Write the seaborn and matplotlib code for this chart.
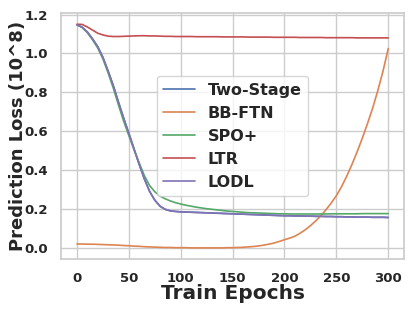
import numpy as np
import pandas as pd
import matplotlib
matplotlib.use("Agg")
import matplotlib.pyplot as plt
import seaborn as sns

# epochs sampled every 5
epochs = list(range(0, 301, 5))

lodl = [1.147, 1.135, 1.11, 1.075, 1.035, 0.98, 0.91, 0.835, 0.75, 0.668, 0.59,
        0.51, 0.43, 0.355, 0.292, 0.247, 0.216, 0.2, 0.192, 0.189, 0.187,
        0.186, 0.185, 0.184, 0.183, 0.182, 0.181, 0.18, 0.179, 0.178, 0.177,
        0.176, 0.175, 0.174, 0.173, 0.172, 0.171, 0.17, 0.169, 0.168, 0.167,
        0.167, 0.166, 0.166, 0.165, 0.165, 0.164, 0.164, 0.163, 0.163, 0.162,
        0.162, 0.161, 0.161, 0.160, 0.160, 0.160, 0.159, 0.159, 0.159, 0.158]
two_stage = list(lodl)
spo = [1.147, 1.133, 1.107, 1.07, 1.028, 0.972, 0.9, 0.822, 0.735, 0.652, 0.578,
       0.505, 0.438, 0.372, 0.322, 0.29, 0.268, 0.254, 0.243, 0.234, 0.227,
       0.221, 0.216, 0.211, 0.207, 0.203, 0.2, 0.197, 0.194, 0.191, 0.189,
       0.187, 0.185, 0.183, 0.182, 0.181, 0.18, 0.179, 0.178, 0.177, 0.177,
       0.176, 0.176, 0.176, 0.176, 0.176, 0.176, 0.176, 0.176, 0.177, 0.177,
       0.177, 0.177, 0.177, 0.177, 0.178, 0.178, 0.178, 0.178, 0.178, 0.178]
ltr = [1.15, 1.149, 1.136, 1.12, 1.104, 1.095, 1.089, 1.087, 1.087, 1.088, 1.089,
       1.09, 1.091, 1.091, 1.09, 1.09, 1.089, 1.088, 1.088, 1.087, 1.087,
       1.087, 1.087, 1.086, 1.086, 1.086, 1.086, 1.086, 1.085, 1.085, 1.085,
       1.085, 1.085, 1.084, 1.084, 1.084, 1.084, 1.084, 1.083, 1.083, 1.083,
       1.083, 1.083, 1.082, 1.082, 1.082, 1.082, 1.082, 1.081, 1.081, 1.081,
       1.081, 1.081, 1.081, 1.08, 1.08, 1.08, 1.08, 1.08, 1.08, 1.08]
bbftn = [0.022, 0.022, 0.021, 0.021, 0.02, 0.019, 0.018, 0.017, 0.016, 0.014, 0.013,
         0.011, 0.01, 0.008, 0.007, 0.006, 0.005, 0.004, 0.004, 0.003, 0.003,
         0.003, 0.002, 0.002, 0.002, 0.002, 0.002, 0.002, 0.002, 0.003, 0.003,
         0.004, 0.005, 0.007, 0.009, 0.012, 0.016, 0.021, 0.027, 0.035, 0.044,
         0.052, 0.062, 0.077, 0.095, 0.116, 0.14, 0.167, 0.198, 0.232, 0.27,
         0.316, 0.37, 0.43, 0.495, 0.565, 0.64, 0.72, 0.81, 0.91, 1.025]

methods = ["Two-Stage", "BB-FTN", "SPO+", "LTR", "LODL"]
series = [two_stage, bbftn, spo, ltr, lodl]

rows = []
for name, vals in zip(methods, series):
    for e, v in zip(epochs, vals):
        rows.append({"epoch": e, "loss": v, "method": name})
df = pd.DataFrame(rows)

sns.set_theme(style="whitegrid")
plt.rcParams["font.family"] = ["DejaVu Sans"]

fig, ax = plt.subplots(figsize=(4.15, 3.11), dpi=100)
sns.lineplot(data=df, x="epoch", y="loss", hue="method", hue_order=methods,
             palette="deep", linewidth=1.2, ax=ax)

ax.set_xlabel("Train Epochs", fontsize=14.5, fontweight="bold")
ax.xaxis.set_label_coords(0.5, -0.1)
ax.set_ylabel("Prediction Loss (10^8)", fontsize=13, fontweight="bold")
ax.yaxis.set_label_coords(-0.101, 0.5)
ax.set_xticks([0, 50, 100, 150, 200, 250, 300])
ax.set_yticks([0.0, 0.2, 0.4, 0.6, 0.8, 1.0, 1.2])
for lab in ax.get_xticklabels() + ax.get_yticklabels():
    lab.set_fontsize(9.5)
    lab.set_fontweight("bold")

leg = ax.legend(loc="center", prop={"size": 11.5, "weight": "bold"})

fig.subplots_adjust(left=0.148, right=0.973, top=0.958, bottom=0.167)
fig.savefig("out.png", dpi=100)
